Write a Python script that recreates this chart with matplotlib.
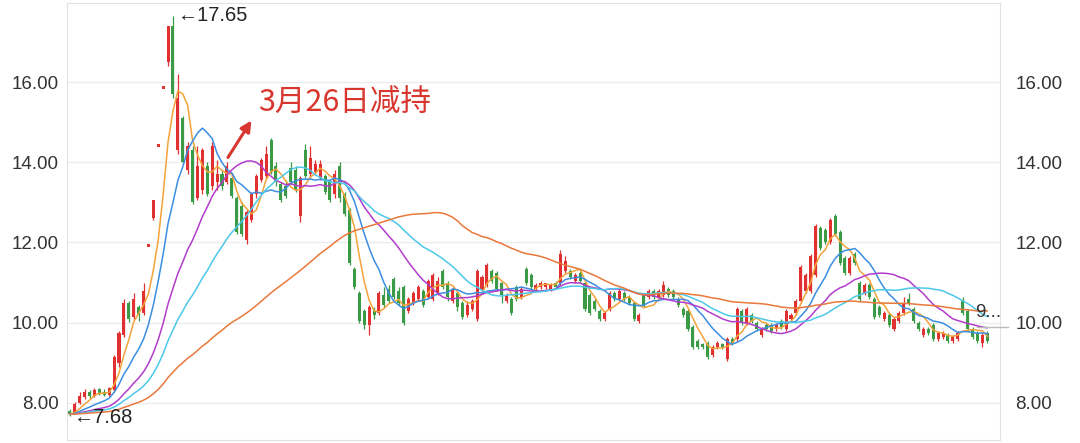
import numpy as np
import pandas as pd
from matplotlib import pyplot as plt

# closes before the visible window (only feed the moving averages)
history = [7.74, 7.72, 7.70, 7.73, 7.75, 7.71, 7.69, 7.72, 7.74, 7.70,
           7.71, 7.73, 7.76, 7.72, 7.70, 7.68, 7.71, 7.74, 7.73, 7.70,
           7.72, 7.75, 7.73, 7.71, 7.69, 7.70, 7.72, 7.74, 7.71, 7.70,
           7.73, 7.72, 7.70, 7.69, 7.71, 7.74, 7.75, 7.72, 7.70, 7.71,
           7.73, 7.71, 7.69, 7.70, 7.72, 7.74, 7.72, 7.70, 7.71, 7.73,
           7.72, 7.70, 7.69, 7.71, 7.73, 7.74, 7.72, 7.71, 7.70]

# daily candles (oldest first)
opens = [7.80, 7.75, 8.00, 8.15, 8.28, 8.18, 8.34, 8.28, 8.20, 8.32,
         9.00, 9.70, 10.50, 10.15, 10.40, 10.25, 11.88, 12.60, 14.38, 15.82,
         16.50, 17.40, 14.30, 15.10, 13.80, 14.30, 13.10, 13.30, 13.90, 13.40,
         13.50, 13.70, 13.50, 13.60, 13.10, 12.90, 12.05, 12.55, 13.20, 13.55,
         13.65, 14.55, 13.90, 13.45, 13.40, 13.85, 13.80, 12.65, 14.30, 13.70,
         13.75, 13.60, 13.65, 13.50, 13.20, 13.90, 13.20, 12.80, 11.35, 10.75,
         10.30, 9.95, 10.30, 10.25, 10.70, 10.85, 11.10, 10.80, 10.90, 10.30,
         10.50, 10.60, 10.80, 10.65, 10.60, 10.75, 11.30, 11.00, 10.55, 10.75,
         10.50, 10.20, 10.35, 10.10, 10.85, 10.95, 11.30, 11.25, 11.00, 10.55,
         10.60, 10.90, 10.65, 11.35, 11.20, 10.85, 10.90, 10.90, 10.85, 11.00,
         11.00, 11.30, 11.30, 11.05, 11.25, 11.00, 10.70, 10.55, 10.30, 10.10,
         10.35, 10.75, 10.60, 10.75, 10.65, 10.50, 10.05, 10.70, 10.65, 10.80,
         10.65, 10.70, 10.85, 10.80, 10.60, 10.35, 10.30, 9.90, 9.55, 9.45,
         9.50, 9.20, 9.40, 9.45, 9.10, 9.60, 9.60, 10.30, 10.00, 10.20,
         10.00, 9.70, 9.95, 9.95, 9.85, 10.05, 9.85, 10.10, 10.25, 10.55,
         10.80, 10.80, 11.20, 12.35, 12.30, 12.00, 12.65, 12.25, 11.60, 11.25,
         11.70, 11.00, 10.75, 10.95, 10.60, 10.40, 10.10, 10.20, 9.85, 10.05,
         10.25, 10.60, 10.35, 10.00, 9.70, 9.85, 9.95, 9.60, 9.65, 9.70,
         9.55, 9.60, 10.55, 10.30, 9.85, 9.75, 9.50, 9.75]
closes = [7.72, 7.98, 8.18, 8.28, 8.18, 8.32, 8.24, 8.20, 8.36, 9.15,
          9.75, 10.50, 10.10, 10.60, 10.20, 10.80, 11.88, 13.07, 14.38, 15.82,
          17.40, 15.70, 15.60, 14.00, 14.40, 13.00, 13.90, 14.30, 13.20, 14.40,
          13.70, 13.40, 13.90, 13.15, 12.25, 12.20, 12.75, 13.20, 13.65, 14.05,
          14.20, 13.75, 13.50, 13.05, 13.15, 13.50, 13.30, 13.60, 13.65, 14.10,
          13.95, 13.95, 13.25, 13.05, 13.70, 13.10, 12.70, 11.50, 10.90, 10.05,
          9.95, 10.40, 10.20, 10.75, 10.45, 10.55, 10.65, 10.50, 10.00, 10.60,
          10.75, 10.90, 10.45, 11.05, 11.20, 11.05, 10.90, 10.65, 10.85, 10.40,
          10.15, 10.45, 10.55, 11.30, 11.15, 11.45, 11.05, 10.85, 10.70, 10.70,
          10.25, 10.60, 10.85, 11.00, 10.90, 10.95, 11.00, 10.95, 10.95, 10.90,
          11.70, 11.55, 11.15, 11.20, 11.05, 10.35, 10.25, 10.35, 10.10, 10.25,
          10.75, 10.60, 10.80, 10.60, 10.50, 10.10, 10.20, 10.45, 10.80, 10.65,
          10.80, 10.95, 10.70, 10.65, 10.45, 10.20, 9.85, 9.40, 9.40, 9.40,
          9.15, 9.40, 9.50, 9.40, 9.60, 9.50, 10.35, 10.00, 10.35, 10.05,
          9.85, 9.85, 9.85, 9.80, 9.95, 9.90, 10.30, 10.20, 10.55, 11.40,
          11.20, 11.65, 12.40, 11.85, 12.00, 12.55, 12.20, 11.50, 11.25, 11.60,
          11.50, 10.60, 10.95, 10.65, 10.15, 10.20, 10.25, 9.95, 10.10, 10.25,
          10.50, 10.50, 10.05, 9.85, 9.85, 9.75, 9.60, 9.75, 9.75, 9.55,
          9.65, 9.75, 10.25, 9.85, 9.65, 9.55, 9.70, 9.55]
highs = [7.86, 8.02, 8.28, 8.35, 8.32, 8.38, 8.38, 8.34, 8.40, 9.20,
         9.80, 10.60, 10.55, 10.75, 10.45, 11.00, 11.88, 13.07, 14.38, 15.82,
         17.40, 17.65, 16.20, 15.15, 14.50, 14.40, 14.40, 14.35, 14.00, 14.50,
         14.05, 13.80, 14.00, 13.70, 13.15, 13.00, 12.80, 13.25, 13.70, 14.10,
         14.40, 14.60, 14.00, 13.50, 13.55, 14.00, 13.90, 13.65, 14.45, 14.40,
         14.05, 14.05, 13.70, 13.55, 13.80, 14.00, 13.25, 12.85, 11.40, 10.80,
         10.35, 10.45, 10.40, 10.80, 10.90, 10.95, 11.15, 10.90, 10.95, 10.65,
         10.80, 10.95, 10.85, 11.10, 11.25, 11.15, 11.35, 11.05, 10.90, 10.80,
         10.55, 10.55, 10.60, 11.35, 11.20, 11.50, 11.35, 11.30, 11.05, 10.75,
         10.65, 10.95, 10.90, 11.40, 11.25, 11.00, 11.05, 11.00, 11.00, 11.05,
         11.80, 11.65, 11.35, 11.25, 11.30, 11.05, 10.75, 10.60, 10.35, 10.30,
         10.80, 10.80, 10.85, 10.80, 10.70, 10.55, 10.25, 10.75, 10.85, 10.85,
         10.85, 11.05, 10.90, 10.85, 10.65, 10.40, 10.35, 9.95, 9.60, 9.50,
         9.55, 9.45, 9.55, 9.50, 9.65, 9.65, 10.40, 10.35, 10.40, 10.25,
         10.05, 9.90, 10.00, 10.00, 10.00, 10.10, 10.35, 10.25, 10.60, 11.45,
         11.25, 11.70, 12.45, 12.40, 12.35, 12.60, 12.70, 12.30, 11.65, 11.65,
         11.75, 11.05, 11.00, 11.00, 10.65, 10.45, 10.30, 10.25, 10.15, 10.30,
         10.65, 10.75, 10.40, 10.05, 9.90, 9.90, 10.00, 9.80, 9.80, 9.75,
         9.70, 9.80, 10.65, 10.35, 9.90, 9.80, 9.75, 9.78]
lows = [7.68, 7.72, 7.98, 8.10, 8.12, 8.15, 8.20, 8.16, 8.16, 8.28,
        8.90, 9.65, 10.02, 10.10, 10.05, 10.20, 11.88, 12.55, 14.38, 15.82,
        16.40, 15.60, 14.20, 13.95, 13.70, 12.95, 13.05, 13.20, 13.15, 13.30,
        13.30, 13.30, 13.45, 13.10, 12.20, 12.15, 11.95, 12.50, 13.10, 13.50,
        13.60, 13.70, 13.40, 13.00, 13.10, 13.45, 13.25, 12.50, 13.60, 13.60,
        13.70, 13.55, 13.20, 13.00, 13.10, 13.00, 12.65, 11.45, 10.85, 10.00,
        9.85, 9.70, 10.10, 10.20, 10.40, 10.50, 10.60, 10.45, 9.95, 10.25,
        10.45, 10.55, 10.40, 10.60, 10.55, 10.70, 10.85, 10.55, 10.50, 10.30,
        10.10, 10.15, 10.30, 10.05, 10.80, 10.90, 11.00, 10.80, 10.50, 10.50,
        10.20, 10.55, 10.60, 10.95, 10.85, 10.80, 10.85, 10.85, 10.80, 10.85,
        10.95, 11.25, 11.10, 11.00, 11.00, 10.30, 10.20, 10.30, 10.05, 10.05,
        10.30, 10.55, 10.55, 10.55, 10.45, 10.05, 10.00, 10.40, 10.60, 10.60,
        10.60, 10.65, 10.65, 10.60, 10.40, 10.15, 9.80, 9.35, 9.35, 9.35,
        9.10, 9.15, 9.35, 9.35, 9.05, 9.45, 9.55, 9.95, 9.95, 10.00,
        9.80, 9.65, 9.80, 9.75, 9.80, 9.85, 9.80, 10.05, 10.20, 10.50,
        10.75, 10.75, 11.15, 11.80, 11.95, 11.95, 12.15, 11.45, 11.20, 11.20,
        11.45, 10.55, 10.70, 10.60, 10.10, 10.15, 10.05, 9.90, 9.80, 10.00,
        10.20, 10.45, 10.00, 9.80, 9.65, 9.70, 9.55, 9.55, 9.60, 9.50,
        9.50, 9.55, 10.20, 9.80, 9.60, 9.50, 9.40, 9.50]

ma_windows = [5, 10, 20, 30, 60]
ma_colors = ['#f4a33a', '#3b8ee0', '#b23ccb', '#4cc8e8', '#e9783a']

y_ticks = [8, 10, 12, 14, 16]
high_label = '←17.65'
low_label = '←7.68'
note = '3月26日减持'
last_mark = 9.88
last_label = '9...'

o = np.array(opens)
c = np.array(closes)
h = np.array(highs)
l = np.array(lows)
xs = np.arange(len(c))

plt.rcParams['font.family'] = ['Liberation Sans', 'DejaVu Sans']

fig = plt.figure(figsize=(10.8, 4.43), dpi=100)
ax = fig.add_axes([0.062, 0.0068, 0.8639, 0.9864])

red, green = '#e0302f', '#3a9a46'
cols = np.where(c >= o, red, green)
ax.vlines(xs, l, h, colors=cols, lw=0.9, zorder=2)
ax.bar(xs, np.maximum(np.abs(c - o), 0.08), bottom=np.minimum(o, c),
       width=0.62, color=cols, linewidth=0, zorder=2)

s = pd.Series(history + closes)
for w, col in zip(ma_windows, ma_colors):
    ma = s.rolling(w, min_periods=1).mean().iloc[len(history):]
    ax.plot(xs, ma.values, color=col, lw=1.1, zorder=3)

ax.set_xlim(-0.61, 189.6)
ax.set_ylim(7.075, 17.97)
ax.set_xticks([])
ax.set_yticks(y_ticks)
ax.set_yticklabels(['%.2f' % v for v in y_ticks])
ax.tick_params(axis='y', length=0, labelsize=13.5, labelcolor='#333333', pad=6)
ax.grid(axis='y', color='#ececec', lw=1)
for sp in ax.spines.values():
    sp.set_color('#e2e2e2')

ax2 = ax.twinx()
ax2.set_ylim(ax.get_ylim())
ax2.set_yticks(y_ticks)
ax2.set_yticklabels(['%.2f' % v for v in y_ticks])
ax2.tick_params(axis='y', length=0, labelsize=13.5, labelcolor='#333333', pad=11)
for sp in ax2.spines.values():
    sp.set_visible(False)

i_hi = int(np.argmax(h))
ax.text(i_hi + 1.0, h[i_hi], high_label, fontsize=14.5, color='#222222', va='center', ha='left')
i_lo = int(np.argmin(l))
ax.text(i_lo + 0.9, l[i_lo] - 0.05, low_label, fontsize=14.5, color='#222222', va='center', ha='left')

ax.annotate('', xy=(37.3, 15.1), xytext=(31.9, 14.06),
            arrowprops=dict(arrowstyle='-|>', color='#d8372f', lw=2.2, mutation_scale=16))
ax.text(38.3, 15.48, note, fontsize=22, color='#d8372f', va='center', ha='left',
        family=['Noto Sans CJK SC', 'DejaVu Sans'])

ax.plot([len(c) - 3, 191.2], [last_mark, last_mark], color='#bbbbbb', lw=1, clip_on=False, zorder=4)
ax.text(184.5, last_mark + 0.38, last_label, fontsize=13.5, color='#333333', va='center', ha='left', clip_on=False)

fig.savefig('out.png', dpi=100)
